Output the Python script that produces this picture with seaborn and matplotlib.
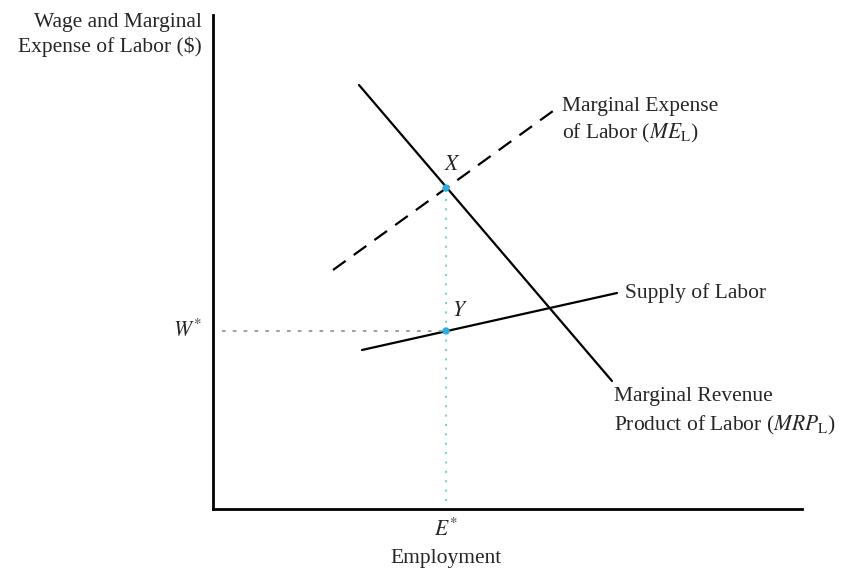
import numpy as np
import pandas as pd
import matplotlib
matplotlib.use("Agg")
import matplotlib.pyplot as plt
import seaborn as sns

# curve endpoints (employment, wage) in chart units
mrp_x = [146, 399]
mrp_y = [424, 128]
me_x = [120, 340]
me_y = [239, 398]
supply_x = [149, 404]
supply_y = [159, 216]

# equilibrium points
e_star = 233
w_star = 178
x_wage = 321
point_labels = ["X", "Y"]

sns.set_style("white")
plt.rcParams["font.family"] = ["Liberation Serif", "DejaVu Serif"]
plt.rcParams["mathtext.fontset"] = "stix"

fig = plt.figure(figsize=(8.51, 5.69), dpi=100)
ax = fig.add_axes([213 / 851, 1 - 509 / 569, 589 / 851, 494 / 569])

lines = pd.DataFrame({
    "x": mrp_x + me_x + supply_x,
    "y": mrp_y + me_y + supply_y,
    "curve": ["MRP"] * 2 + ["ME"] * 2 + ["S"] * 2,
})
sns.lineplot(data=lines[lines.curve == "MRP"], x="x", y="y", color="black", lw=1.6, ax=ax)
sns.lineplot(data=lines[lines.curve == "ME"], x="x", y="y", color="black", lw=1.6,
             ax=ax, linestyle=(0, (7, 4.5)))
sns.lineplot(data=lines[lines.curve == "S"], x="x", y="y", color="black", lw=1.6, ax=ax)

# guide lines
ax.plot([9, e_star], [w_star, w_star], color="#8c9a9a", lw=1.3, linestyle=(0, (2, 4)))
ax.plot([e_star, e_star], [8, x_wage], color="#7fd0d0", lw=1.5, linestyle=(0, (1, 3.5)))

pts = pd.DataFrame({"x": [e_star, e_star], "y": [x_wage, w_star], "lab": point_labels})
sns.scatterplot(data=pts, x="x", y="y", color="#2aaee0", s=28, edgecolor="none", ax=ax, zorder=5)

fs = 15.5
ax.text(e_star + 6, x_wage + 13, "$\\mathit{X}$", fontsize=fs, ha="center", va="bottom")
ax.text(e_star + 14, w_star + 10, "$\\mathit{Y}$", fontsize=fs, ha="center", va="bottom")

ax.text(412, 216, "Supply of Labor", fontsize=fs, va="center", ha="left")
ax.text(349, 403, "Marginal Expense", fontsize=fs, va="center", ha="left")
ax.text(349, 376, "of Labor ($\\mathit{ME}_{\\rm L}$)", fontsize=fs, va="center", ha="left")
ax.text(401, 112, "Marginal Revenue", fontsize=fs, va="center", ha="left")
ax.text(401, 84, "Product of Labor ($\\mathit{MRP}_{\\rm L}$)", fontsize=fs, va="center", ha="left")

ax.text(-40, w_star, "$\\mathit{W}^{*}$", fontsize=fs, va="center", ha="left", clip_on=False)
ax.text(e_star, -21, "$\\mathit{E}^{*}$", fontsize=fs, va="center", ha="center", clip_on=False)
ax.text(e_star, -49, "Employment", fontsize=fs, va="center", ha="center", clip_on=False)
ax.text(-11, 487, "Wage and Marginal", fontsize=fs, va="center", ha="right", clip_on=False)
ax.text(-11, 462, "Expense of Labor ($)", fontsize=fs, va="center", ha="right", clip_on=False)

ax.set_xlim(0, 589)
ax.set_ylim(0, 494)
ax.set_xticks([])
ax.set_yticks([])
ax.set_xlabel("")
ax.set_ylabel("")
for side in ["top", "right"]:
    ax.spines[side].set_visible(False)
for side in ["left", "bottom"]:
    ax.spines[side].set_color("black")
    ax.spines[side].set_linewidth(2)

fig.savefig("out.png", dpi=100)
